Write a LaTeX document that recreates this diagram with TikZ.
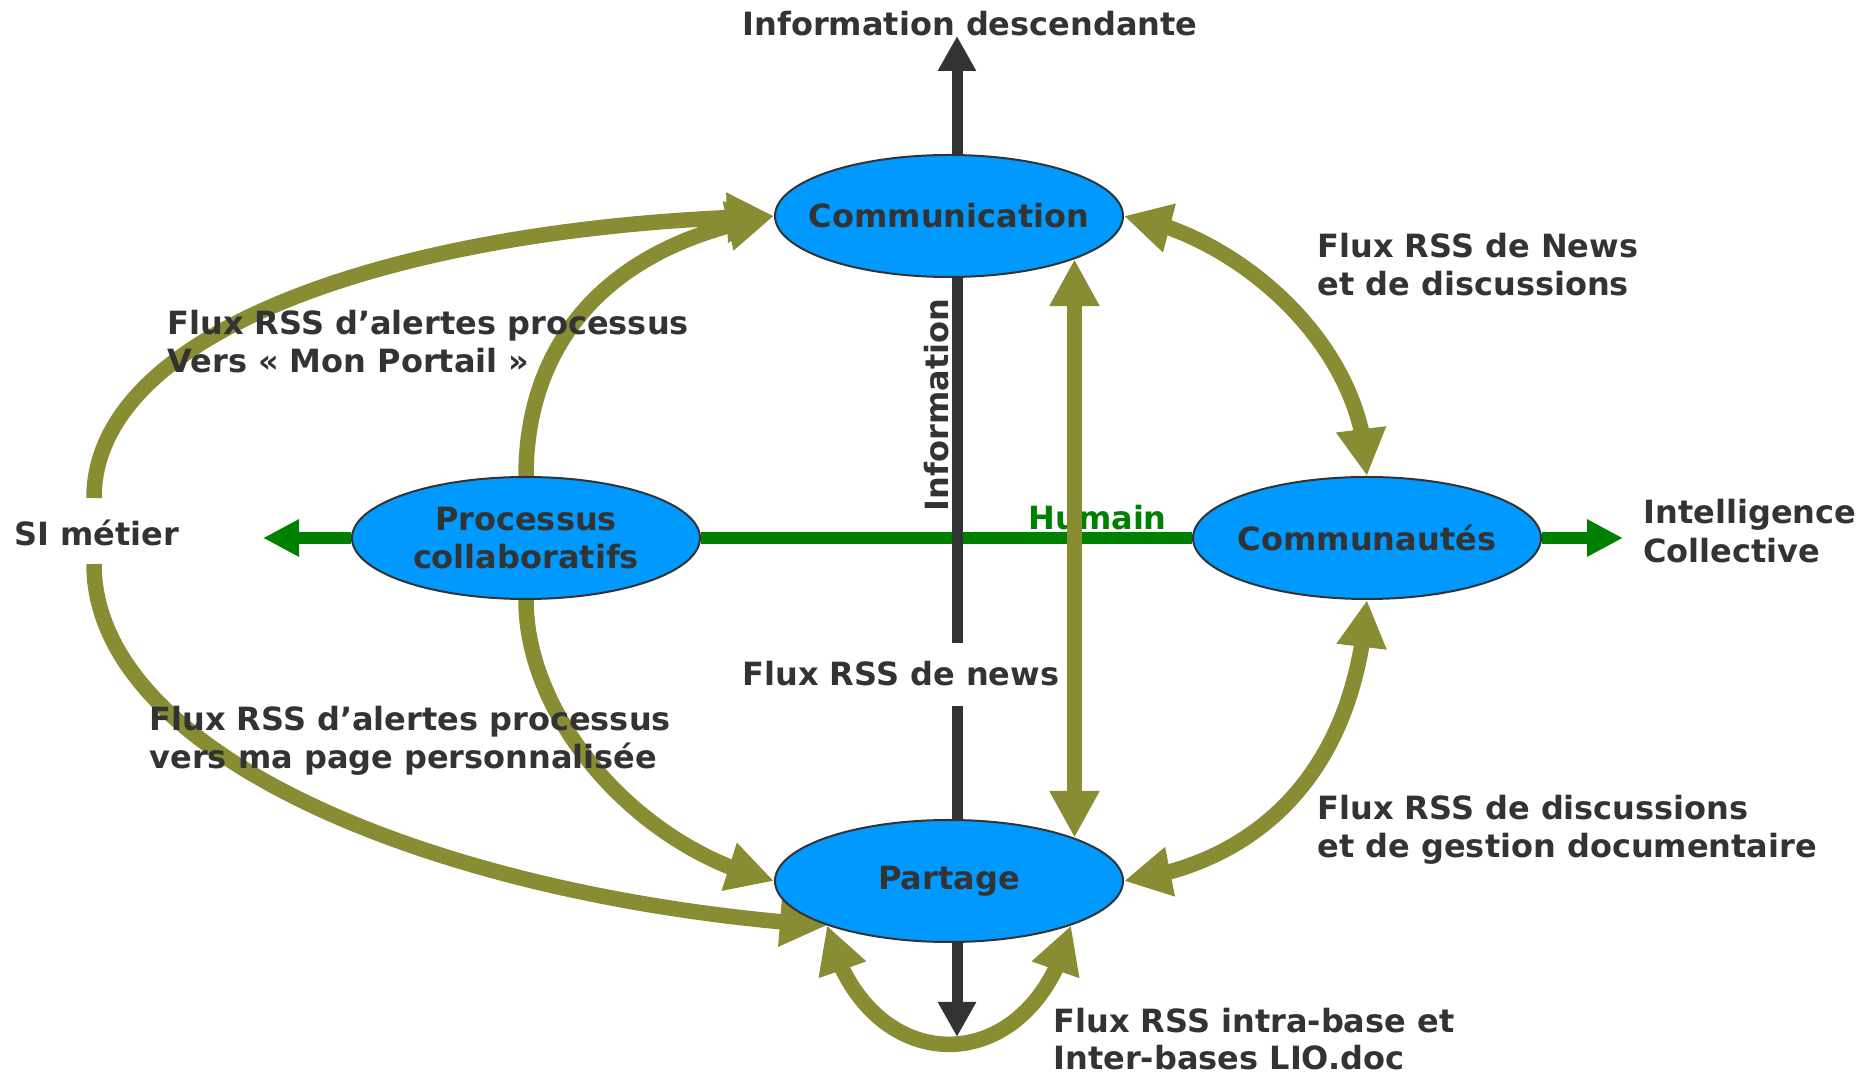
\documentclass[tikz,border=0pt]{standalone}
\usepackage{fontspec}
\setmainfont{DejaVu Sans}
\usetikzlibrary{arrows.meta,bending,shapes.geometric,calc}
\definecolor{olivec}{RGB}{136,140,51}
\definecolor{ellblue}{RGB}{0,153,255}
\definecolor{txtgray}{RGB}{51,51,51}
\definecolor{humgreen}{RGB}{0,128,0}
\pgfdeclarelayer{bg}
\pgfsetlayers{bg,main}
\begin{document}
\begin{tikzpicture}[x=0.4pt,y=-0.4pt,
  lbl/.style={font=\bfseries\fontsize{12.8}{15.1}\selectfont, text=txtgray, inner sep=0pt},
  bub/.style={ellipse, draw=txtgray, line width=0.8pt, fill=ellblue, minimum width=139.2pt, minimum height=48.8pt, inner sep=0pt},
  otip/.tip={Triangle[length=18.8pt,width=18.8pt]},
  oarrow/.style={draw=olivec, line width=6.2pt, -{otip}},
  oboth/.style={draw=olivec, line width=6.2pt, {otip}-{otip}},
  darrow/.style={draw=txtgray, line width=4.4pt, -{Triangle[length=14pt,width=14.4pt]}},
  dline/.style={draw=txtgray, line width=4.4pt},
  garrow/.style={draw=humgreen, line width=4.8pt, -{Triangle[length=14.4pt,width=14pt]}},
  gline/.style={draw=humgreen, line width=4.8pt}]
\useasboundingbox (0,0) rectangle (1876,1077);
% ellipses
\node[bub] (comm) at (949,216) {};
\node[bub] (proc) at (526,538) {};
\node[bub] (commu) at (1367,538) {};
\node[bub] (part) at (949,881) {};
\node[lbl, align=center] (commT) at (comm.center) {Communication};
\node[lbl, align=center] (procT) at (proc.center) {Processus\\collaboratifs};
\node[lbl, align=center] (commuT) at (commu.center) {Communautés};
\node[lbl, align=center] (partT) at (part.center) {Partage};
% helper coordinates
\coordinate (ix) at (957,0);
\coordinate (topend) at (957,36);
\coordinate (gapA) at (957,643);
\coordinate (gapB) at (957,706);
\coordinate (botend) at (957,1037);
\coordinate (siL) at (263,538);
\coordinate (icR) at (1623,538);
\coordinate (siTop) at (94,498);
\coordinate (siBot) at (94,564);
\begin{pgfonlayer}{bg}
\fill[white] (0,0) rectangle (1876,1077);
% green axis
\draw[garrow] (proc.west) -- (siL);
\draw[gline] (proc.east) -- (commu.west);
\draw[garrow] (commu.east) -- (icR);
\node[lbl, text=humgreen, anchor=base west] (hum) at (1028,530) {Humain};
% dark axis
\draw[darrow] (comm.north -| ix) -- (topend);
\draw[dline] (comm.south -| ix) -- (gapA);
\draw[dline] (gapB) -- (part.north -| ix);
\draw[darrow] (part.south -| ix) -- (botend);
% olive flows
\draw[oarrow] (proc.north) .. controls (526,350) and (600,245) .. (comm.west);
\draw[oarrow] (siTop) .. controls (94,330) and (400,225) .. (comm.west);
\draw[oarrow] (proc.south) .. controls (526,720) and (640,850) .. (part.west);
\draw[oarrow] (siBot) .. controls (94,760) and (450,900) .. (part.200);
\draw[oboth] (comm.east) .. controls (1230,232) and (1365,340) .. (commu.north);
\draw[oboth] (commu.south) .. controls (1355,780) and (1250,865) .. (part.east);
\draw[oboth] (comm.-19.3) -- (part.19.3);
\draw[oboth] (part.200) .. controls (865,1084) and (1033,1084) .. (part.-20);
\end{pgfonlayer}
% labels
\node[lbl, anchor=base] (infodesc) at (970,36) {Information descendante};
\node[lbl, rotate=90, anchor=base] (info) at (948,405) {Information};
\node[lbl, anchor=base west] (frn) at (742,686) {Flux RSS de news};
\node[lbl, anchor=base west] (fa1) at (167,335) {Flux RSS d’alertes processus};
\node[lbl, anchor=base west] (fa2) at (167,373) {Vers « Mon Portail »};
\node[lbl, anchor=base west] (fb1) at (149,731) {Flux RSS d’alertes processus};
\node[lbl, anchor=base west] (fb2) at (149,769) {vers ma page personnalisée};
\node[lbl, anchor=base west] (si) at (14,546) {SI métier};
\node[lbl, anchor=base west] (ic1) at (1643,524) {Intelligence};
\node[lbl, anchor=base west] (ic2) at (1643,563) {Collective};
\node[lbl, anchor=base west] (fn1) at (1317,258) {Flux RSS de News};
\node[lbl, anchor=base west] (fn2) at (1317,296) {et de discussions};
\node[lbl, anchor=base west] (fd1) at (1317,820) {Flux RSS de discussions};
\node[lbl, anchor=base west] (fd2) at (1317,858) {et de gestion documentaire};
\node[lbl, anchor=base west] (fi1) at (1053,1033) {Flux RSS intra-base et};
\node[lbl, anchor=base west] (fi2) at (1053,1070) {Inter-bases LIO.doc};
\end{tikzpicture}
\end{document}
